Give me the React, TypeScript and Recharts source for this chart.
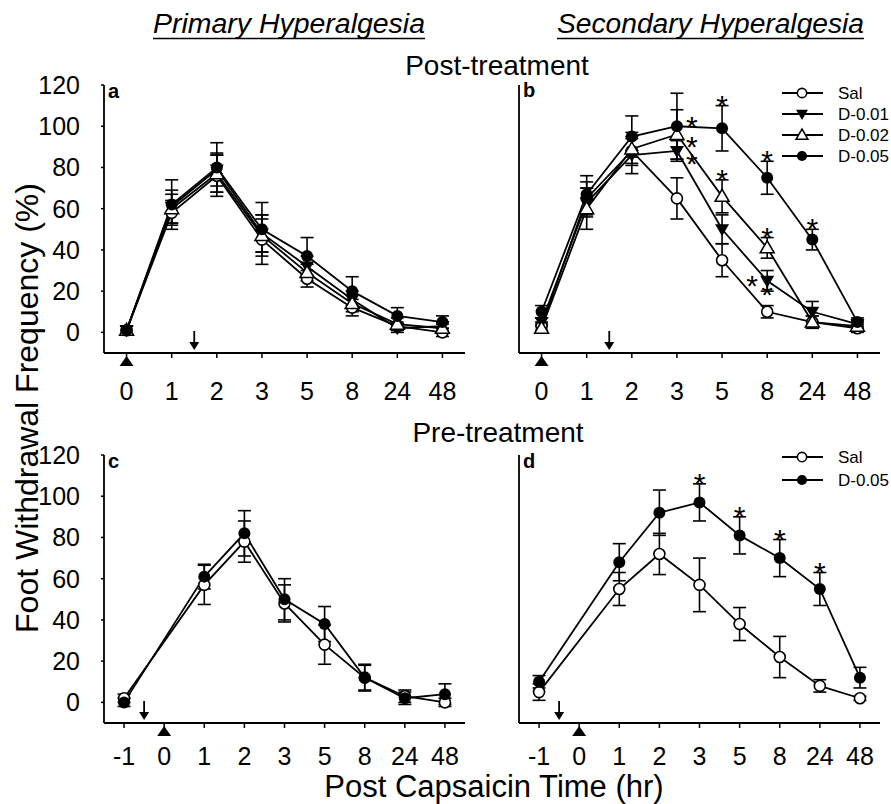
import React from "react";
import { ComposedChart, Line, XAxis, YAxis, ErrorBar, ReferenceDot } from "recharts";

const FONT = '"Liberation Sans", Arial, Helvetica, sans-serif';

const timesAB = ["0", "1", "2", "3", "5", "8", "24", "48"];
const timesCD = ["-1", "0", "1", "2", "3", "5", "8", "24", "48"];
const yTicks = [0, 20, 40, 60, 80, 100, 120];

// a: primary hyperalgesia, post-treatment
const salA = [1, 58, 76, 45, 26, 12, 3, 0];
const salAErr = [2, 6, 10, 12, 4, 4, 2, 2];
const d01A = [1, 61, 79, 48, 32, 16, 2, 3];
const d01AErr = [2, 8, 8, 9, 5, 4, 2, 2];
const d02A = [1, 60, 77, 47, 29, 14, 4, 2];
const d02AErr = [2, 7, 9, 8, 4, 4, 3, 2];
const d05A = [1, 62, 80, 50, 37, 20, 8, 5];
const d05AErr = [2, 12, 12, 13, 9, 7, 4, 3];

// b: secondary hyperalgesia, post-treatment
const salB = [3, 65, 88, 65, 35, 10, 5, 2];
const salBErr = [2, 8, 6, 10, 8, 3, 3, 2];
const d01B = [5, 63, 86, 88, 50, 25, 10, 4];
const d01BErr = [2, 7, 9, 5, 7, 5, 5, 2];
const d02B = [2, 60, 89, 96, 66, 41, 5, 3];
const d02BErr = [2, 10, 8, 12, 8, 5, 3, 2];
const d05B = [10, 67, 95, 100, 99, 75, 45, 5];
const d05BErr = [3, 9, 10, 16, 11, 8, 5, 2];

// c: primary hyperalgesia, pre-treatment (no reading at 0)
const salC = [2, null, 57, 78, 48, 28, 12, 3, 0];
const salCErr = [2, null, 9.5, 10, 9, 9.5, 6, 3, 2];
const d05C = [0, null, 61, 82, 50, 38, 12, 2, 4];
const d05CErr = [2, null, 6, 11, 10, 8.5, 6.5, 3, 5];

// d: secondary hyperalgesia, pre-treatment
const salD = [5, null, 55, 72, 57, 38, 22, 8, 2];
const salDErr = [4, null, 8, 10, 13, 8, 10, 3, 1];
const d05D = [10, null, 68, 92, 97, 81, 70, 55, 12];
const d05DErr = [3, null, 9, 11, 9, 9, 9, 8, 5];

// significance asterisks
const starsB = [
  { series: "d05", i: 3, place: "rightHigh" },
  { series: "d05", i: 4, place: "above" },
  { series: "d05", i: 5, place: "above" },
  { series: "d05", i: 6, place: "above" },
  { series: "d02", i: 3, place: "rightLow" },
  { series: "d02", i: 4, place: "above" },
  { series: "d02", i: 5, place: "above" },
  { series: "d01", i: 3, place: "rightLow" },
  { series: "d01", i: 5, place: "left" },
  { series: "d01", i: 5, place: "below" },
];
const starsD = [
  { series: "d05", i: 4, place: "above" },
  { series: "d05", i: 5, place: "above" },
  { series: "d05", i: 6, place: "above" },
  { series: "d05", i: 7, place: "above" },
];

const SERIES4 = [
  { key: "sal", name: "Sal", kind: "openCircle" },
  { key: "d01", name: "D-0.01", kind: "downTri" },
  { key: "d02", name: "D-0.02", kind: "upTri" },
  { key: "d05", name: "D-0.05", kind: "filledCircle" },
];
const SERIES2 = [SERIES4[0], SERIES4[3]];

function buildRows(times: string[], cols: Record<string, (number | null)[]>) {
  return times
    .map((_, i) => {
      const row: any = { i };
      Object.keys(cols).forEach((k) => (row[k] = cols[k][i]));
      return row;
    })
    .filter((r) => r.sal != null);
}

const rowsA = buildRows(timesAB, { sal: salA, salE: salAErr, d01: d01A, d01E: d01AErr, d02: d02A, d02E: d02AErr, d05: d05A, d05E: d05AErr });
const rowsB = buildRows(timesAB, { sal: salB, salE: salBErr, d01: d01B, d01E: d01BErr, d02: d02B, d02E: d02BErr, d05: d05B, d05E: d05BErr });
const rowsC = buildRows(timesCD, { sal: salC, salE: salCErr, d05: d05C, d05E: d05CErr });
const rowsD = buildRows(timesCD, { sal: salD, salE: salDErr, d05: d05D, d05E: d05DErr });

function Marker({ kind, cx, cy, s = 1 }: { kind: string; cx: number; cy: number; s?: number }) {
  if (cx == null || cy == null) return <g />;
  if (kind === "openCircle") return <circle cx={cx} cy={cy} r={5.5 * s} fill="#fff" stroke="#000" strokeWidth={1.6} />;
  if (kind === "filledCircle") return <circle cx={cx} cy={cy} r={6 * s} fill="#000" />;
  if (kind === "downTri")
    return <polygon points={`${cx - 7 * s},${cy - 5 * s} ${cx + 7 * s},${cy - 5 * s} ${cx},${cy + 7 * s}`} fill="#000" />;
  return (
    <polygon
      points={`${cx - 7 * s},${cy + 5 * s} ${cx + 7 * s},${cy + 5 * s} ${cx},${cy - 7 * s}`}
      fill="#fff"
      stroke="#000"
      strokeWidth={1.5}
    />
  );
}

const STAR_OFFSET: Record<string, [number, number]> = {
  above: [0, -7],
  rightHigh: [15, -6],
  rightLow: [15, 6],
  left: [-15, -2],
  below: [0, 7],
};

function Star({ cx, cy, place }: any) {
  const [dx, dy] = STAR_OFFSET[place];
  return (
    <text x={cx + dx} y={cy + dy + 17} textAnchor="middle" fontSize={30} fontFamily={FONT} fill="#000">
      *
    </text>
  );
}

function InjectTriangle({ cx, cy }: any) {
  return <polygon points={`${cx - 7},${cy + 13} ${cx + 7},${cy + 13} ${cx},${cy + 3}`} fill="#000" />;
}

function DrugArrow({ cx, cy }: any) {
  return (
    <g>
      <line x1={cx} y1={cy - 22} x2={cx} y2={cy - 8} stroke="#000" strokeWidth={1.8} />
      <polygon points={`${cx - 5},${cy - 11} ${cx + 5},${cy - 11} ${cx},${cy - 3}`} fill="#000" />
    </g>
  );
}

// tick texts placed explicitly from the axis' tick coordinates
function XTick({ x, y, payload, times, drop }: any) {
  return (
    <text x={x} y={y + drop} textAnchor="middle" fontSize={25} fontFamily={FONT} fill="#000">
      {times[payload.value]}
    </text>
  );
}

function YTick({ x, y, payload }: any) {
  return (
    <text x={x - 21} y={y + 9} textAnchor="end" fontSize={25} fontFamily={FONT} fill="#000">
      {payload.value}
    </text>
  );
}

function Panel({ left, top, width, yWidth, right, rows, series, times, showY, drop, stars, arrowAt, injectAt }: any) {
  return (
    <div style={{ position: "absolute", left, top }}>
      <ComposedChart width={width} height={354} data={rows} margin={{ top: 25, right, bottom: 16, left: 0 }}>
        <XAxis
          type="number"
          dataKey="i"
          domain={[-0.5, times.length - 0.5]}
          ticks={times.map((_: string, i: number) => i)}
          interval={0}
          allowDataOverflow
          height={45}
          axisLine={{ stroke: "#000", strokeWidth: 1.8 }}
          tickLine={{ stroke: "#000", strokeWidth: 1.5 }}
          tickSize={5}
          tickMargin={0}
          tick={(p: any) => <XTick key={p.index} {...p} times={times} drop={drop} />}
        />
        <YAxis
          type="number"
          domain={[-10, 120]}
          ticks={yTicks}
          interval={0}
          allowDataOverflow
          width={yWidth}
          axisLine={{ stroke: "#000", strokeWidth: 1.8 }}
          tickLine={{ stroke: "#000", strokeWidth: 1.5 }}
          tickSize={3}
          tickMargin={0}
          tick={showY ? (p: any) => <YTick key={p.index} {...p} /> : false}
        />
        {series.map((s: any) => (
          <Line
            key={s.key}
            dataKey={s.key}
            stroke="#000"
            strokeWidth={1.8}
            connectNulls
            isAnimationActive={false}
            activeDot={false}
            dot={(p: any) => <Marker key={`${s.key}-${p.index}`} kind={s.kind} cx={p.cx} cy={p.cy} />}
          >
            <ErrorBar dataKey={`${s.key}E`} width={6.5} stroke="#000" strokeWidth={1.6} direction="y" />
          </Line>
        ))}
        <ReferenceDot x={injectAt} y={-10} r={0} shape={(p: any) => <InjectTriangle {...p} />} />
        <ReferenceDot x={arrowAt} y={-10} r={0} shape={(p: any) => <DrugArrow {...p} />} />
        {stars.map((st: any, k: number) => {
          const row = rows.find((r: any) => r.i === st.i);
          const y = st.place === "above" ? row[st.series] + row[`${st.series}E`] : row[st.series];
          return <ReferenceDot key={k} x={st.i} y={y} r={0} shape={(p: any) => <Star {...p} place={st.place} />} />;
        })}
      </ComposedChart>
    </div>
  );
}

function LegendBox({ x, rows, series }: { x: number; rows: number[]; series: any[] }) {
  return (
    <g>
      {series.map((s, k) => (
        <g key={s.key}>
          <line x1={x} y1={rows[k]} x2={x + 41} y2={rows[k]} stroke="#000" strokeWidth={1.8} />
          <Marker kind={s.kind} cx={x + 20} cy={rows[k]} s={0.85} />
          <text x={x + 56} y={rows[k] + 6} fontSize={17} fontFamily={FONT} fill="#000">
            {s.name}
          </text>
        </g>
      ))}
    </g>
  );
}

export default function App() {
  return (
    <div style={{ position: "absolute", left: 0, top: 0, width: 891, height: 804, background: "#fff", overflow: "hidden" }}>
      <Panel left={0} top={60} width={480} yWidth={104} right={15} rows={rowsA} series={SERIES4} times={timesAB} showY drop={42} stars={[]} arrowAt={1.5} injectAt={0} />
      <Panel left={440} top={60} width={451} yWidth={79} right={11} rows={rowsB} series={SERIES4} times={timesAB} showY={false} drop={42} stars={starsB} arrowAt={1.5} injectAt={0} />
      <Panel left={0} top={430} width={480} yWidth={104} right={15} rows={rowsC} series={SERIES2} times={timesCD} showY drop={37} stars={[]} arrowAt={0.5} injectAt={1} />
      <Panel left={440} top={430} width={451} yWidth={79} right={11} rows={rowsD} series={SERIES2} times={timesCD} showY={false} drop={37} stars={starsD} arrowAt={0.5} injectAt={1} />
      <svg width={891} height={804} style={{ position: "absolute", left: 0, top: 0, pointerEvents: "none" }}>
        <g fontFamily={FONT} fill="#000">
          <text x={153} y={33} fontSize={27} fontStyle="italic" textLength={272} lengthAdjust="spacingAndGlyphs">
            Primary Hyperalgesia
          </text>
          <line x1={153} y1={38.5} x2={425} y2={38.5} stroke="#000" strokeWidth={1.5} />
          <text x={557} y={33} fontSize={27} fontStyle="italic" textLength={307} lengthAdjust="spacingAndGlyphs">
            Secondary Hyperalgesia
          </text>
          <line x1={557} y1={38.5} x2={864} y2={38.5} stroke="#000" strokeWidth={1.5} />
          <text x={497} y={75} fontSize={28} textAnchor="middle">Post-treatment</text>
          <text x={498} y={442} fontSize={28} textAnchor="middle">Pre-treatment</text>
          <text x={494} y={797} fontSize={31} textAnchor="middle">Post Capsaicin Time (hr)</text>
          <text transform="translate(38, 408) rotate(-90)" fontSize={32} textAnchor="middle">
            Foot Withdrawal Frequency (%)
          </text>
          <text x={108} y={98} fontSize={20} fontWeight="bold">a</text>
          <text x={523} y={97} fontSize={20} fontWeight="bold">b</text>
          <text x={108} y={468} fontSize={20} fontWeight="bold">c</text>
          <text x={523} y={468} fontSize={20} fontWeight="bold">d</text>
        </g>
        <LegendBox x={782} rows={[93, 114, 135, 156]} series={SERIES4} />
        <LegendBox x={782} rows={[457, 480]} series={SERIES2} />
      </svg>
    </div>
  );
}
